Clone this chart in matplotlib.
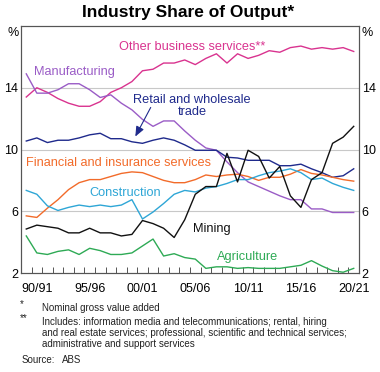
import matplotlib
matplotlib.use("Agg")
import matplotlib.pyplot as plt
import numpy as np

plt.rcParams['font.family'] = ['Liberation Sans', 'DejaVu Sans']

years = [f"{y % 100:02d}/{(y + 1) % 100:02d}" for y in range(1989, 2021)]
tick_labels = ["90/91", "95/96", "00/01", "05/06", "10/11", "15/16", "20/21"]

other_business = [13.4, 14.0, 13.7, 13.3, 13.0, 12.8, 12.8, 13.1, 13.7, 14.0, 14.4,
                  15.1, 15.2, 15.6, 15.6, 15.8, 15.5, 15.9, 16.2, 15.6, 16.2, 15.9,
                  16.1, 16.4, 16.3, 16.6, 16.7, 16.5, 16.6, 16.5, 16.6, 16.35]
manufacturing = [14.9, 13.65, 13.65, 13.87, 14.26, 14.26, 13.87, 13.37, 13.54, 13.0, 12.57,
                 11.95, 11.5, 11.85, 11.85, 11.2, 10.6, 10.1, 9.95, 9.2, 8.5, 7.9,
                 7.6, 7.3, 7.0, 6.75, 6.75, 6.15, 6.15, 5.92, 5.92, 5.92]
retail = [10.55, 10.75, 10.45, 10.6, 10.6, 10.75, 10.95, 11.05, 10.7, 10.7, 10.5,
          10.4, 10.6, 10.75, 10.6, 10.3, 9.95, 9.95, 9.95, 9.5, 9.45, 9.3,
          9.3, 9.3, 8.95, 8.95, 9.05, 8.75, 8.5, 8.2, 8.3, 8.75]
financial = [5.7, 5.6, 6.2, 6.75, 7.4, 7.85, 8.05, 8.05, 8.25, 8.45, 8.55,
             8.5, 8.25, 8.0, 7.85, 7.85, 8.05, 8.35, 8.25, 8.35, 8.4, 8.25,
             8.0, 8.2, 8.2, 8.4, 8.7, 8.45, 8.35, 8.2, 8.05, 7.95]
construction = [7.35, 7.1, 6.35, 6.05, 6.25, 6.4, 6.3, 6.4, 6.3, 6.4, 6.75,
                5.5, 5.95, 6.5, 7.1, 7.35, 7.25, 7.5, 7.6, 7.8, 8.05, 8.05,
                8.3, 8.5, 8.6, 8.75, 8.5, 8.05, 8.15, 7.8, 7.55, 7.35]
mining = [4.85, 5.1, 5.0, 4.9, 4.6, 4.6, 4.9, 4.6, 4.6, 4.4, 4.5,
          5.4, 5.2, 4.9, 4.3, 5.45, 7.1, 7.6, 7.6, 9.75, 7.9, 9.95,
          9.55, 8.15, 8.9, 7.0, 6.25, 8.05, 8.5, 10.4, 10.8, 11.5]
agriculture = [4.4, 3.3, 3.2, 3.4, 3.5, 3.2, 3.6, 3.45, 3.2, 3.2, 3.3,
               3.75, 4.2, 3.1, 3.25, 3.0, 2.9, 2.3, 2.4, 2.4, 2.3, 2.35,
               2.3, 2.3, 2.3, 2.4, 2.5, 2.8, 2.45, 2.15, 2.05, 2.3]

C_PINK = "#d9338f"
C_PURPLE = "#9a5cc6"
C_NAVY = "#1f2a8c"
C_ORANGE = "#f26b2a"
C_BLUE = "#2ea6d6"
C_BLACK = "#111111"
C_GREEN = "#2eaa55"

W, H = 380, 372
fig = plt.figure(figsize=(W / 100, H / 100), dpi=100)
L, R, T, B = 21, 359, 26, 273
ax = fig.add_axes([L / W, 1 - B / H, (R - L) / W, (B - T) / H])

x = np.arange(len(years))
series = [(other_business, C_PINK), (manufacturing, C_PURPLE), (retail, C_NAVY),
          (financial, C_ORANGE), (construction, C_BLUE), (mining, C_BLACK),
          (agriculture, C_GREEN)]
for vals, col in series:
    ax.plot(x, vals, color=col, lw=1.0, zorder=3, clip_on=False)

ax.set_xlim(-0.5, len(years) - 0.5)
ax.set_ylim(2, 18)
for g in [6, 10, 14]:
    ax.axhline(g, color="#c8c8c8", lw=0.8, zorder=1)

TS = 9.0
ax.set_xticks(np.arange(0.5, len(years) - 0.5, 1.0), minor=True)
ax.set_xticks([years.index(t) for t in tick_labels])
ax.set_xticklabels(tick_labels, fontsize=TS)
ax.tick_params(axis="x", which="major", length=0, pad=7)
ax.tick_params(axis="x", which="minor", direction="in", length=4, width=0.7, color="#555555")

ax.set_yticks([2, 6, 10, 14])
ax.set_yticklabels(["2", "6", "10", "14"], fontsize=TS)
ax.tick_params(axis="y", length=0, pad=2)
ax2 = ax.twinx()
ax2.set_ylim(2, 18)
ax2.set_yticks([2, 6, 10, 14])
ax2.set_yticklabels(["2", "6", "10", "14"], fontsize=TS)
ax2.tick_params(axis="y", length=0, pad=2)

for a in (ax, ax2):
    for s in a.spines.values():
        s.set_color("#555555")
        s.set_linewidth(0.8)

def ft(px, py, s, **kw):
    fig.text(px / W, 1 - py / H, s, **kw)

ft(188, 13, "Industry Share of Output*", fontsize=12.5, fontweight="bold", ha="center", va="center")
ft(19, 33, "%", fontsize=TS, ha="right", va="center")
ft(361, 33, "%", fontsize=TS, ha="left", va="center")

lab = dict(fontsize=9.2, va="center")
ft(119, 47, "Other business services**", color=C_PINK, ha="left", **lab)
ft(34, 72, "Manufacturing", color=C_PURPLE, ha="left", **lab)
ft(192, 106, "Retail and wholesale\ntrade", color=C_NAVY, ha="center", linespacing=1.05, **lab)
ft(26, 163, "Financial and insurance services", color=C_ORANGE, ha="left", **lab)
ft(89, 193, "Construction", color=C_BLUE, ha="left", **lab)
ft(193, 229, "Mining", color=C_BLACK, ha="left", **lab)
ft(217, 257, "Agriculture", color=C_GREEN, ha="left", **lab)

fig.add_artist(matplotlib.patches.FancyArrowPatch(
    (152 / W, 1 - 105 / H), (134 / W, 1 - 139 / H), transform=fig.transFigure,
    arrowstyle="-|>,head_length=6,head_width=2.5", color=C_NAVY, lw=0.8, mutation_scale=1))

fn = dict(fontsize=7.0, va="center", ha="left", color="#222222")
ft(20, 304, "*", **fn)
ft(42, 308, "Nominal gross value added", **fn)
ft(20, 318, "**", **fn)
ft(42, 322, "Includes: information media and telecommunications; rental, hiring", **fn)
ft(42, 333, "and real estate services; professional, scientific and technical services;", **fn)
ft(42, 344, "administrative and support services", **fn)
ft(22, 360, "Source:", **fn)
ft(62, 360, "ABS", **fn)

fig.savefig("out.png", dpi=100)
